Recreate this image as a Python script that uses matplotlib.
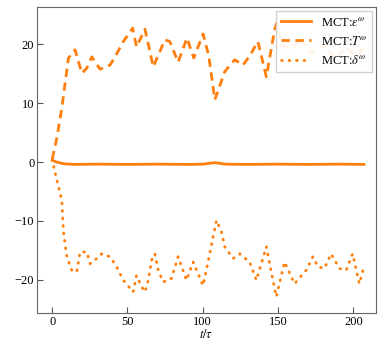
import numpy as np
import matplotlib
matplotlib.use('agg')
import matplotlib.pyplot as plt

plt.rcParams['font.family'] = ['Liberation Serif', 'DejaVu Serif']
plt.rcParams['mathtext.fontset'] = 'stix'

color = '#ff7f0e'

# epsilon (solid), nearly flat just below zero
eps_t = [0, 3, 8, 15, 30, 50, 70, 90, 100, 108, 115, 130, 150, 170, 190, 207]
eps_v = [0.3, 0.0, -0.3, -0.4, -0.35, -0.4, -0.35, -0.4, -0.35, -0.1, -0.35, -0.4, -0.35, -0.4, -0.35, -0.4]

# T (dashed)
T_t = [0, 3, 6.4, 10.8, 15.2, 19.7, 23, 26.3, 31.8, 38.4, 42, 47.2, 50, 53.4, 56, 61.6,
       67.1, 71.5, 74.8, 78.1, 83.6, 89.5, 94, 100.2, 104, 108, 114.6, 121.2, 126.7, 131,
       136.6, 142.2, 147.7, 149, 152, 158, 165, 172, 180, 188, 195, 202, 207]
T_v = [0.5, 4, 9.2, 17.7, 19.1, 15.1, 16, 17.9, 15.8, 16.5, 18, 20.5, 21.5, 22.8, 19.6, 22.6,
       16.2, 18.8, 20.8, 20.5, 17.0, 21.1, 17.7, 21.8, 18, 10.6, 15.4, 17.4, 16.5, 18,
       20.5, 14.5, 22.5, 23.6, 20, 19, 21, 18.5, 20, 17.5, 19.5, 18, 19.5]

# delta (dotted)
d_t = [0, 3, 6.4, 7.5, 9.7, 13, 16.3, 18.5, 23, 25.2, 29.6, 32.9, 38.4, 42.8, 47.2, 53.8,
       56, 59.4, 61.6, 63.8, 66, 68.2, 70.4, 73.7, 79.2, 83.6, 89.2, 93.6, 100.2, 104.6,
       109.1, 112.4, 114.6, 120.1, 124.5, 131.1, 135.6, 142.2, 146.6, 148.8, 154.3, 160.9,
       168.7, 173.1, 176.4, 180.8, 185.2, 190.7, 195.2, 199.5, 204, 207.3]
d_v = [0.5, -3, -6.5, -11.9, -16.1, -18.4, -18.7, -15.3, -15.3, -17.3, -16.4, -15.6, -16.1,
       -17.8, -20.1, -22.1, -19.3, -21.2, -22.1, -20.1, -16.7, -15.6, -18.4, -20.4, -19.8,
       -16.1, -20.1, -17.0, -21.0, -15.6, -9.9, -11.9, -14.4, -16.4, -15.6, -17.0, -20.1,
       -14.4, -20.1, -22.9, -17.0, -20.7, -18.4, -16.1, -17.8, -18.1, -15.6, -18.1, -18.4,
       -15.6, -20.7, -17.5]

fig = plt.figure(figsize=(3.79, 3.43), dpi=100)
ax = fig.add_axes([0.098, 0.087, 0.894, 0.893])

ax.plot(eps_t, eps_v, color=color, lw=2.0, ls='-', label=r'MCT:$\varepsilon^{\omega}$')
ax.plot(T_t, T_v, color=color, lw=2.0, ls=(0, (3, 2)), label=r'MCT:$T^{\omega}$')
ax.plot(d_t, d_v, color=color, lw=2.0, ls=(0, (0.3, 2.4)), dash_capstyle='round',
        label=r'MCT:$\delta^{\omega}$')

ax.set_xlim(-10, 215)
ax.set_ylim(-25.7, 26.4)
ax.set_xticks([0, 50, 100, 150, 200])
ax.set_yticks([-20, -10, 0, 10, 20])
ax.tick_params(direction='in', labelsize=9, length=4, pad=2, color='#555555')
for s in ax.spines.values():
    s.set_color('#666666')
ax.set_xlabel(r'$t/\tau$', fontsize=9, labelpad=0)

ax.legend(loc='upper right', fontsize=9, handlelength=2.4, borderaxespad=0.3,
          framealpha=0.9, edgecolor='#cccccc', fancybox=False, labelspacing=0.5)

fig.savefig('out.png', dpi=100)
